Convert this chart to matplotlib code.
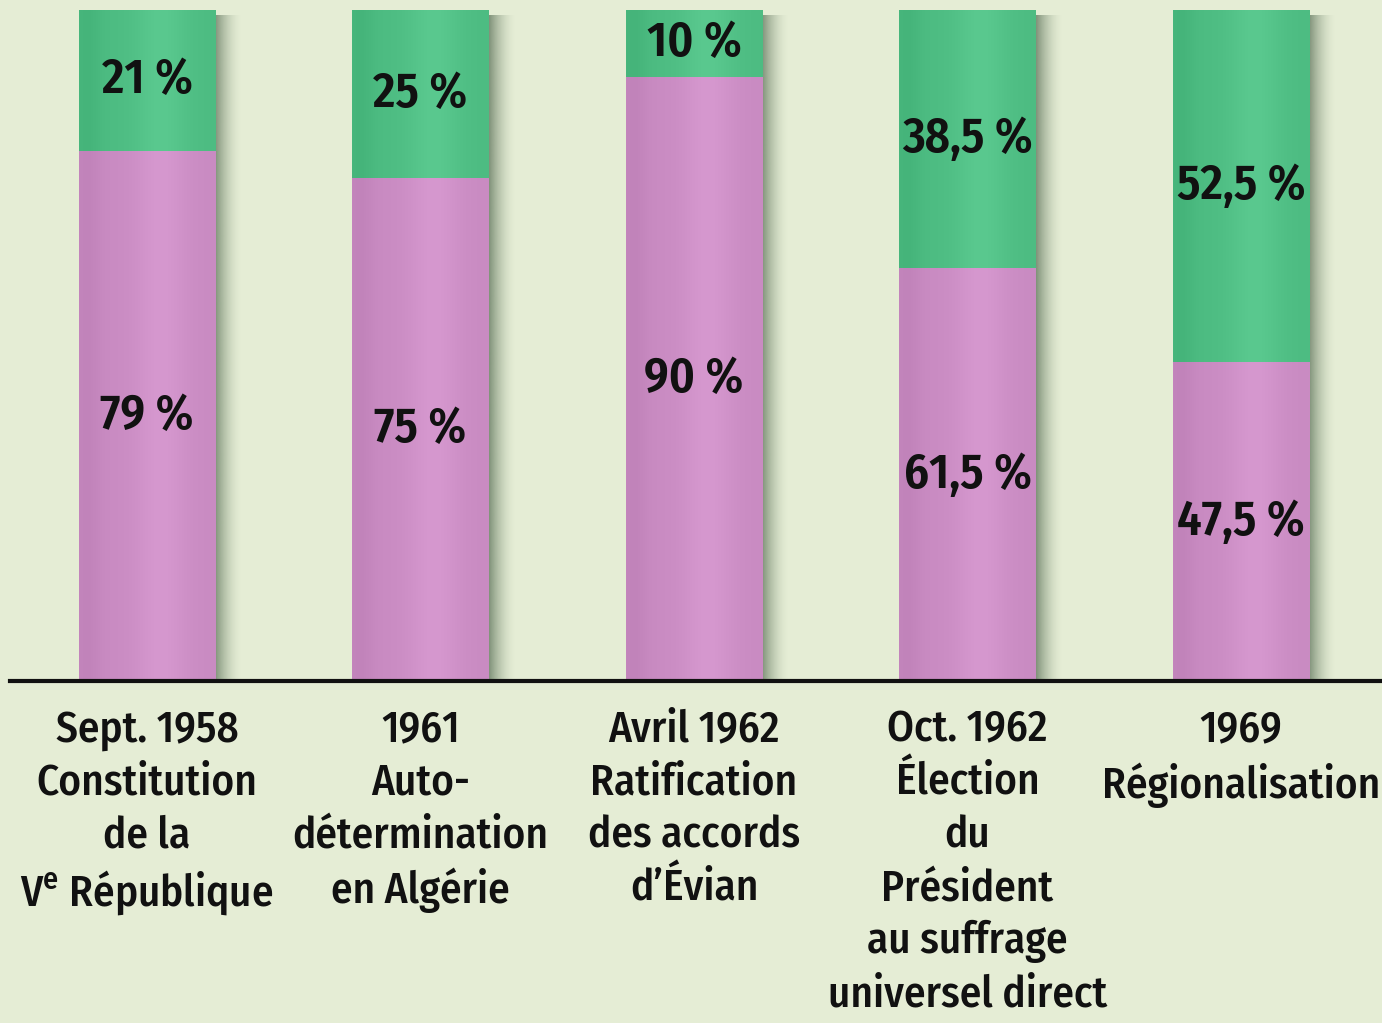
import numpy as np
import matplotlib
matplotlib.use("Agg")
import matplotlib.pyplot as plt
from matplotlib.colors import to_rgb

categories = [
    "Sept. 1958\nConstitution\nde la\nV$^{\\mathrm{e}}$ République",
    "1961\nAuto-\ndétermination\nen Algérie",
    "Avril 1962\nRatification\ndes accords\nd’Évian",
    "Oct. 1962\nÉlection\ndu\nPrésident\nau suffrage\nuniversel direct",
    "1969\nRégionalisation",
]
yes_pct = [79, 75, 90, 61.5, 47.5]
no_pct = [21, 25, 10, 38.5, 52.5]
yes_labels = ["79 %", "75 %", "90 %", "61,5 %", "47,5 %"]
no_labels = ["21 %", "25 %", "10 %", "38,5 %", "52,5 %"]

FONT = ["Fira Sans Condensed", "IBM Plex Sans Condensed", "Open Sans", "DejaVu Sans"]
plt.rcParams["font.family"] = FONT
plt.rcParams["mathtext.fontset"] = "custom"
plt.rcParams["mathtext.rm"] = "Fira Sans Condensed:medium"

BG = "#e5edd5"
PINK = "#c98bc2"
GREEN = "#4dbc82"

W, H = 1382, 1023
fig = plt.figure(figsize=(W / 100, H / 100), dpi=100, facecolor=BG)
ax = fig.add_axes([0, (H - 681) / H, 1, (681 - 10) / H])
ax.set_facecolor(BG)
XLIM = (-147 / 273.5, (W - 147) / 273.5)
ax.set_xlim(*XLIM)
ax.set_ylim(0, 100)
ax.axis("off")

x = np.arange(len(categories))
width = 0.5
px = 1 / 273.5  # data units per pixel in x


def shade(color, n=64, hl=0.05, dark=0.03):
    t = np.linspace(0, 1, n)
    base = np.array(to_rgb(color))
    prof = hl * np.exp(-((t - 0.6) / 0.2) ** 2) - dark * np.exp(-((t - 0.05) / 0.1) ** 2)
    img = np.clip(base[None, :] + prof[:, None], 0, 1)
    return img[None, :, :]


bars_yes = ax.bar(x, yes_pct, width, color=PINK, zorder=2)
bars_no = ax.bar(x, no_pct, width, bottom=yes_pct, color=GREEN, zorder=2)

for bars, col in ((bars_yes, PINK), (bars_no, GREEN)):
    for b in bars:
        x0, y0 = b.get_x(), b.get_y()
        im = ax.imshow(shade(col), extent=[x0, x0 + b.get_width(), y0, y0 + b.get_height()],
                       aspect="auto", zorder=3, interpolation="bilinear")
        im.set_clip_path(b)

# soft shadow on the right side of each bar
sw = 28 * px
n = 64
t = np.linspace(0, 1, n)
sh = np.zeros((1, n, 4))
sh[0, :, :3] = np.array(to_rgb("#3c553c"))
sh[0, :, 3] = 0.6 * (1 - t) ** 1.8
for b, c in zip(bars_yes, bars_no):
    xr = b.get_x() + b.get_width()
    top = c.get_y() + c.get_height()
    ax.imshow(sh, extent=[xr, xr + sw, 0, top - 0.8], aspect="auto", zorder=1,
              interpolation="bilinear")

ax.set_xlim(*XLIM)
ax.set_ylim(0, 100)

# value labels
for i in range(len(x)):
    ax.text(x[i], yes_pct[i] / 2, yes_labels[i], ha="center", va="center",
            fontsize=35, fontweight="semibold", color="#111111", zorder=5)
    ax.text(x[i], yes_pct[i] + no_pct[i] / 2, no_labels[i], ha="center", va="center",
            fontsize=35, fontweight="semibold", color="#111111", zorder=5)

# baseline
ax.axhline(0, xmin=10 / W, xmax=1, color="#111111", lw=3.0, zorder=6, clip_on=False)

# category labels
for i, lab in enumerate(categories):
    ax.text(x[i], -4.1, lab, ha="center", va="top", fontsize=31, fontweight="medium",
            color="#111111", linespacing=1.31, multialignment="center", clip_on=False)

fig.savefig("out.png", dpi=100, facecolor=BG)
